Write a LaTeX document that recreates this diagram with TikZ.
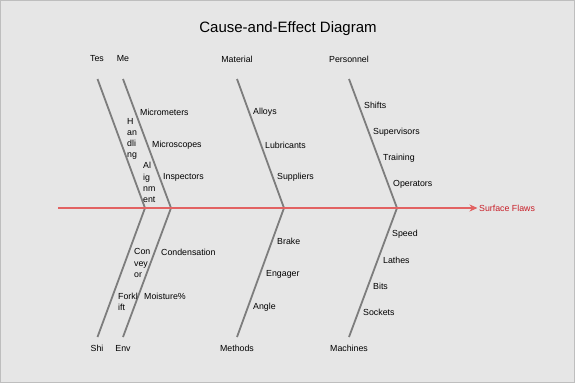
\documentclass[tikz,border=0pt]{standalone}
\usepackage{fontspec}
\setmainfont{Liberation Sans}
\usepackage{tikz}
\usetikzlibrary{arrows.meta}
\definecolor{paper}{RGB}{230,230,230}
\definecolor{frame}{RGB}{190,190,190}
\definecolor{bonegray}{RGB}{125,125,125}
\definecolor{spinered}{RGB}{226,98,98}
\definecolor{effectred}{RGB}{200,30,40}
\tikzstyle{cat}=[inner sep=0pt,font=\fontsize{8.8}{10}\selectfont]
\tikzstyle{cause}=[inner sep=0pt,anchor=west,align=left,font=\fontsize{8.8}{11.2}\selectfont]
\tikzstyle{bone}=[draw=bonegray,line width=1.8pt,line join=miter]

\begin{document}
\begin{tikzpicture}[x=1pt,y=-1pt]

	\tikzstyle{spine}=[draw=spinered,line width=1.8pt,-{Stealth[length=8pt,width=7pt,inset=2.5pt]}];

	\path[fill=paper,draw=frame,line width=1pt] (0.5,0.5) rectangle (574.5,382.5);
	\useasboundingbox (0,0) rectangle (576,384);

	\node (title) at (288,28.5) {\fontsize{15}{17}\selectfont Cause-and-Effect Diagram};

	% effect and spine
	\coordinate (tail) at (58,208);
	\node (effect) [cause,text=effectred,inner sep=1.5pt] at (477.5,208) {Surface Flaws};
	\coordinate (j1) at (145,208);
	\coordinate (j2) at (171,208);
	\coordinate (j3) at (284,208);
	\coordinate (j4) at (397,208);

	% category labels
	\node (tes) [cat] at (97,59) {Tes};
	\node (me) [cat] at (123,59) {Me};
	\node (material) [cat] at (237,59) {Material};
	\node (personnel) [cat] at (349,59) {Personnel};
	\node (shi) [cat] at (97,348) {Shi};
	\node (env) [cat] at (123,348) {Env};
	\node (methods) [cat] at (237,348) {Methods};
	\node (machines) [cat] at (349,348) {Machines};

	% bone ends
	\coordinate (t1) at (97.5,79);
	\coordinate (t2) at (123,79);
	\coordinate (t3) at (237,79);
	\coordinate (t4) at (349,79);
	\coordinate (b1) at (97.5,337);
	\coordinate (b2) at (123,337);
	\coordinate (b3) at (237,337);
	\coordinate (b4) at (349,337);

	\draw[bone] (t1) -- (j1) -- (b1);
	\draw[bone] (t2) -- (j2) -- (b2);
	\draw[bone] (t3) -- (j3) -- (b3);
	\draw[bone] (t4) -- (j4) -- (b4);
	\draw[spine] (tail) -- (effect.west);

	% causes
	\node (handling) [cause] at (127,139) {H\\an\\dli\\ng};
	\node (alignment) [cause] at (143,182.5) {Al\\ig\\nm\\ent};
	\node (micrometers) [cause] at (140,112) {Micrometers};
	\node (microscopes) [cause] at (152,145) {Microscopes};
	\node (inspectors) [cause] at (163,177) {Inspectors};

	\node (conveyor) [cause] at (134,263) {Con\\vey\\or};
	\node (forklift) [cause] at (118,301.5) {Forkl\\ift};
	\node (condensation) [cause] at (161,252.5) {Condensation};
	\node (moisture) [cause] at (144,296) {Moisture\%};

	\node (alloys) [cause] at (253,112) {Alloys};
	\node (lubricants) [cause] at (265,145) {Lubricants};
	\node (suppliers) [cause] at (277,177.5) {Suppliers};

	\node (brake) [cause] at (277,241.5) {Brake};
	\node (engager) [cause] at (266,274) {Engager};
	\node (angle) [cause] at (253,307) {Angle};

	\node (shifts) [cause] at (364,105.5) {Shifts};
	\node (supervisors) [cause] at (373,132) {Supervisors};
	\node (training) [cause] at (383,158) {Training};
	\node (operators) [cause] at (393,184) {Operators};

	\node (speed) [cause] at (392,234.5) {Speed};
	\node (lathes) [cause] at (383,260) {Lathes};
	\node (bits) [cause] at (373,286.5) {Bits};
	\node (sockets) [cause] at (363,312.5) {Sockets};
\end{tikzpicture}
\end{document}
